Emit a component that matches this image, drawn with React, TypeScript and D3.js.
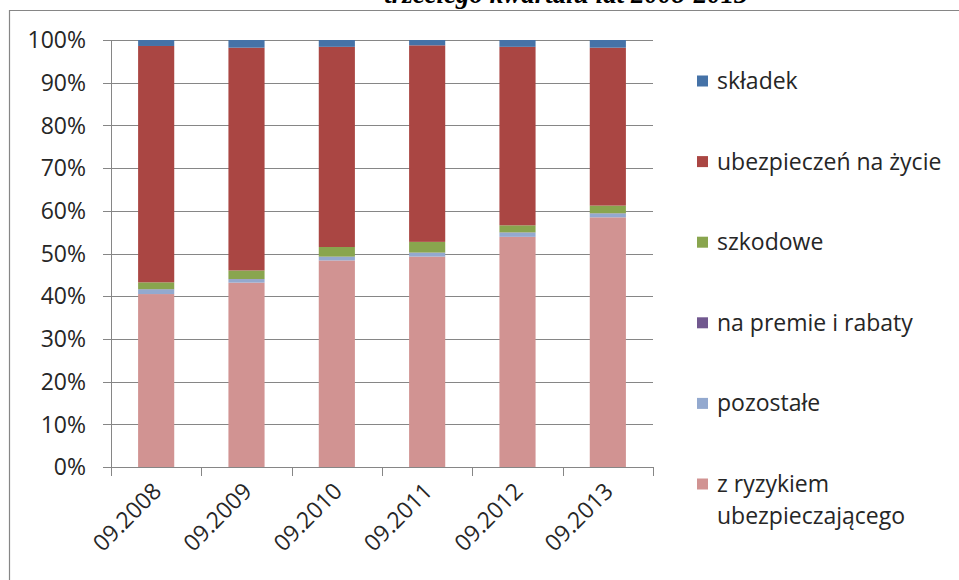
import React from "react";
import * as d3 from "d3";

const categories = ["09.2008", "09.2009", "09.2010", "09.2011", "09.2012", "09.2013"];
const zRyzykiem = [40.5, 43.2, 48.4, 49.3, 53.9, 58.5];
const pozostale = [1.1, 0.8, 0.85, 0.9, 1.0, 0.9];
const naPremie = [0.05, 0.05, 0.05, 0.05, 0.05, 0.05];
const szkodowe = [1.6, 2.0, 2.25, 2.5, 1.65, 1.8];
const ubezpieczen = [55.35, 52.2, 46.9, 46.05, 41.8, 37.0];
const skladek = [1.4, 1.8, 1.6, 1.25, 1.6, 1.8];
const yTicks = [0, 0.1, 0.2, 0.3, 0.4, 0.5, 0.6, 0.7, 0.8, 0.9, 1.0];

const seriesDefs = [
  { key: "z", name: ["z ryzykiem", "ubezpieczającego"], values: zRyzykiem, color: "#D19392" },
  { key: "poz", name: ["pozostałe"], values: pozostale, color: "#93A9CF" },
  { key: "prem", name: ["na premie i rabaty"], values: naPremie, color: "#71588F" },
  { key: "szk", name: ["szkodowe"], values: szkodowe, color: "#89A54E" },
  { key: "ubz", name: ["ubezpieczeń na życie"], values: ubezpieczen, color: "#AA4643" },
  { key: "skl", name: ["składek"], values: skladek, color: "#4572A7" },
];

const W = 959;
const H = 580;
const plot = { left: 111, right: 653, top: 40, bottom: 467 };
const FONT = "'Open Sans', sans-serif";
const TEXT = "#262626";
const AXIS = "#868686";
const FS = 23;

export default function App() {
  const rows = categories.map((c, i) => {
    const r: any = { cat: c };
    seriesDefs.forEach((s) => (r[s.key] = s.values[i]));
    return r;
  });
  const stack = d3
    .stack()
    .keys(seriesDefs.map((s) => s.key))
    .offset(d3.stackOffsetExpand);
  const stacked = stack(rows);

  const x = d3
    .scaleBand()
    .domain(categories)
    .range([plot.left, plot.right])
    .paddingInner(0.6)
    .paddingOuter(0.3);
  const y = d3.scaleLinear().domain([0, 1]).range([plot.bottom, plot.top]);
  const step = x.step();
  const fmt = d3.format(".0%");

  const legendItems = [...seriesDefs].reverse();
  const legendY = d3
    .scalePoint()
    .domain(legendItems.map((s) => s.key))
    .range([81, 484]);

  return (
    <div style={{ position: "absolute", left: 0, top: 0 }}>
      <svg width={W} height={H} style={{ display: "block", background: "#fff" }}>
        <text
          x={566}
          y={3}
          textAnchor="middle"
          fontFamily="'Liberation Serif', 'Times New Roman', serif"
          fontWeight="bold"
          fontStyle="italic"
          fontSize={27}
          fill="#000"
        >
          trzeciego kwartału lat 2008-2013
        </text>
        {/* chart frame */}
        <line x1={9} x2={W} y1={10.5} y2={10.5} stroke={AXIS} strokeWidth={1.2} />
        <line x1={9.5} x2={9.5} y1={10} y2={H} stroke={AXIS} strokeWidth={1.2} />

        {/* gridlines and y axis ticks */}
        {yTicks.map((t) => (
          <g key={t}>
            {t > 0 && (
              <line
                x1={plot.left}
                x2={plot.right}
                y1={Math.round(y(t)) + 0.5}
                y2={Math.round(y(t)) + 0.5}
                stroke={AXIS}
                strokeWidth={1}
              />
            )}
            <line
              x1={plot.left - 8}
              x2={plot.left}
              y1={Math.round(y(t)) + 0.5}
              y2={Math.round(y(t)) + 0.5}
              stroke={AXIS}
            />
            <text
              x={86}
              y={y(t)}
              dy="0.36em"
              textAnchor="end"
              fontFamily={FONT}
              fontSize={FS}
              fill={TEXT}
            >
              {fmt(t)}
            </text>
          </g>
        ))}

        {/* bars */}
        {stacked.map((layer, li) => (
          <g key={layer.key} fill={seriesDefs[li].color}>
            {layer.map((d: any, i: number) => (
              <rect
                key={i}
                x={x(categories[i])}
                y={y(d[1])}
                width={x.bandwidth()}
                height={Math.max(0, y(d[0]) - y(d[1]))}
              />
            ))}
          </g>
        ))}

        {/* axes */}
        <line x1={plot.left + 0.5} x2={plot.left + 0.5} y1={plot.top} y2={plot.bottom} stroke={AXIS} />
        <line x1={plot.left} x2={plot.right} y1={plot.bottom + 0.5} y2={plot.bottom + 0.5} stroke={AXIS} />
        {d3.range(categories.length + 1).map((i) => {
          const xx = Math.round(plot.left + i * step) + 0.5;
          return <line key={i} x1={xx} x2={xx} y1={plot.bottom} y2={plot.bottom + 9} stroke={AXIS} />;
        })}
        {categories.map((c) => {
          const cx = (x(c) as number) + x.bandwidth() / 2 + 1;
          const cy = 487;
          return (
            <text
              key={c}
              transform={`translate(${cx},${cy}) rotate(-45)`}
              textAnchor="end"
              dy="0.35em"
              fontFamily={FONT}
              fontSize={FS}
              fill={TEXT}
            >
              {c}
            </text>
          );
        })}

        {/* legend */}
        {legendItems.map((s) => {
          const ly = legendY(s.key) as number;
          return (
            <g key={s.key}>
              <rect x={697} y={ly - 5.5} width={11} height={11} fill={s.color} />
              {s.name.map((line, j) => (
                <text
                  key={j}
                  x={717}
                  y={ly + j * 32}
                  dy="0.35em"
                  fontFamily={FONT}
                  fontSize={FS}
                  fill={TEXT}
                >
                  {line}
                </text>
              ))}
            </g>
          );
        })}
      </svg>
    </div>
  );
}
